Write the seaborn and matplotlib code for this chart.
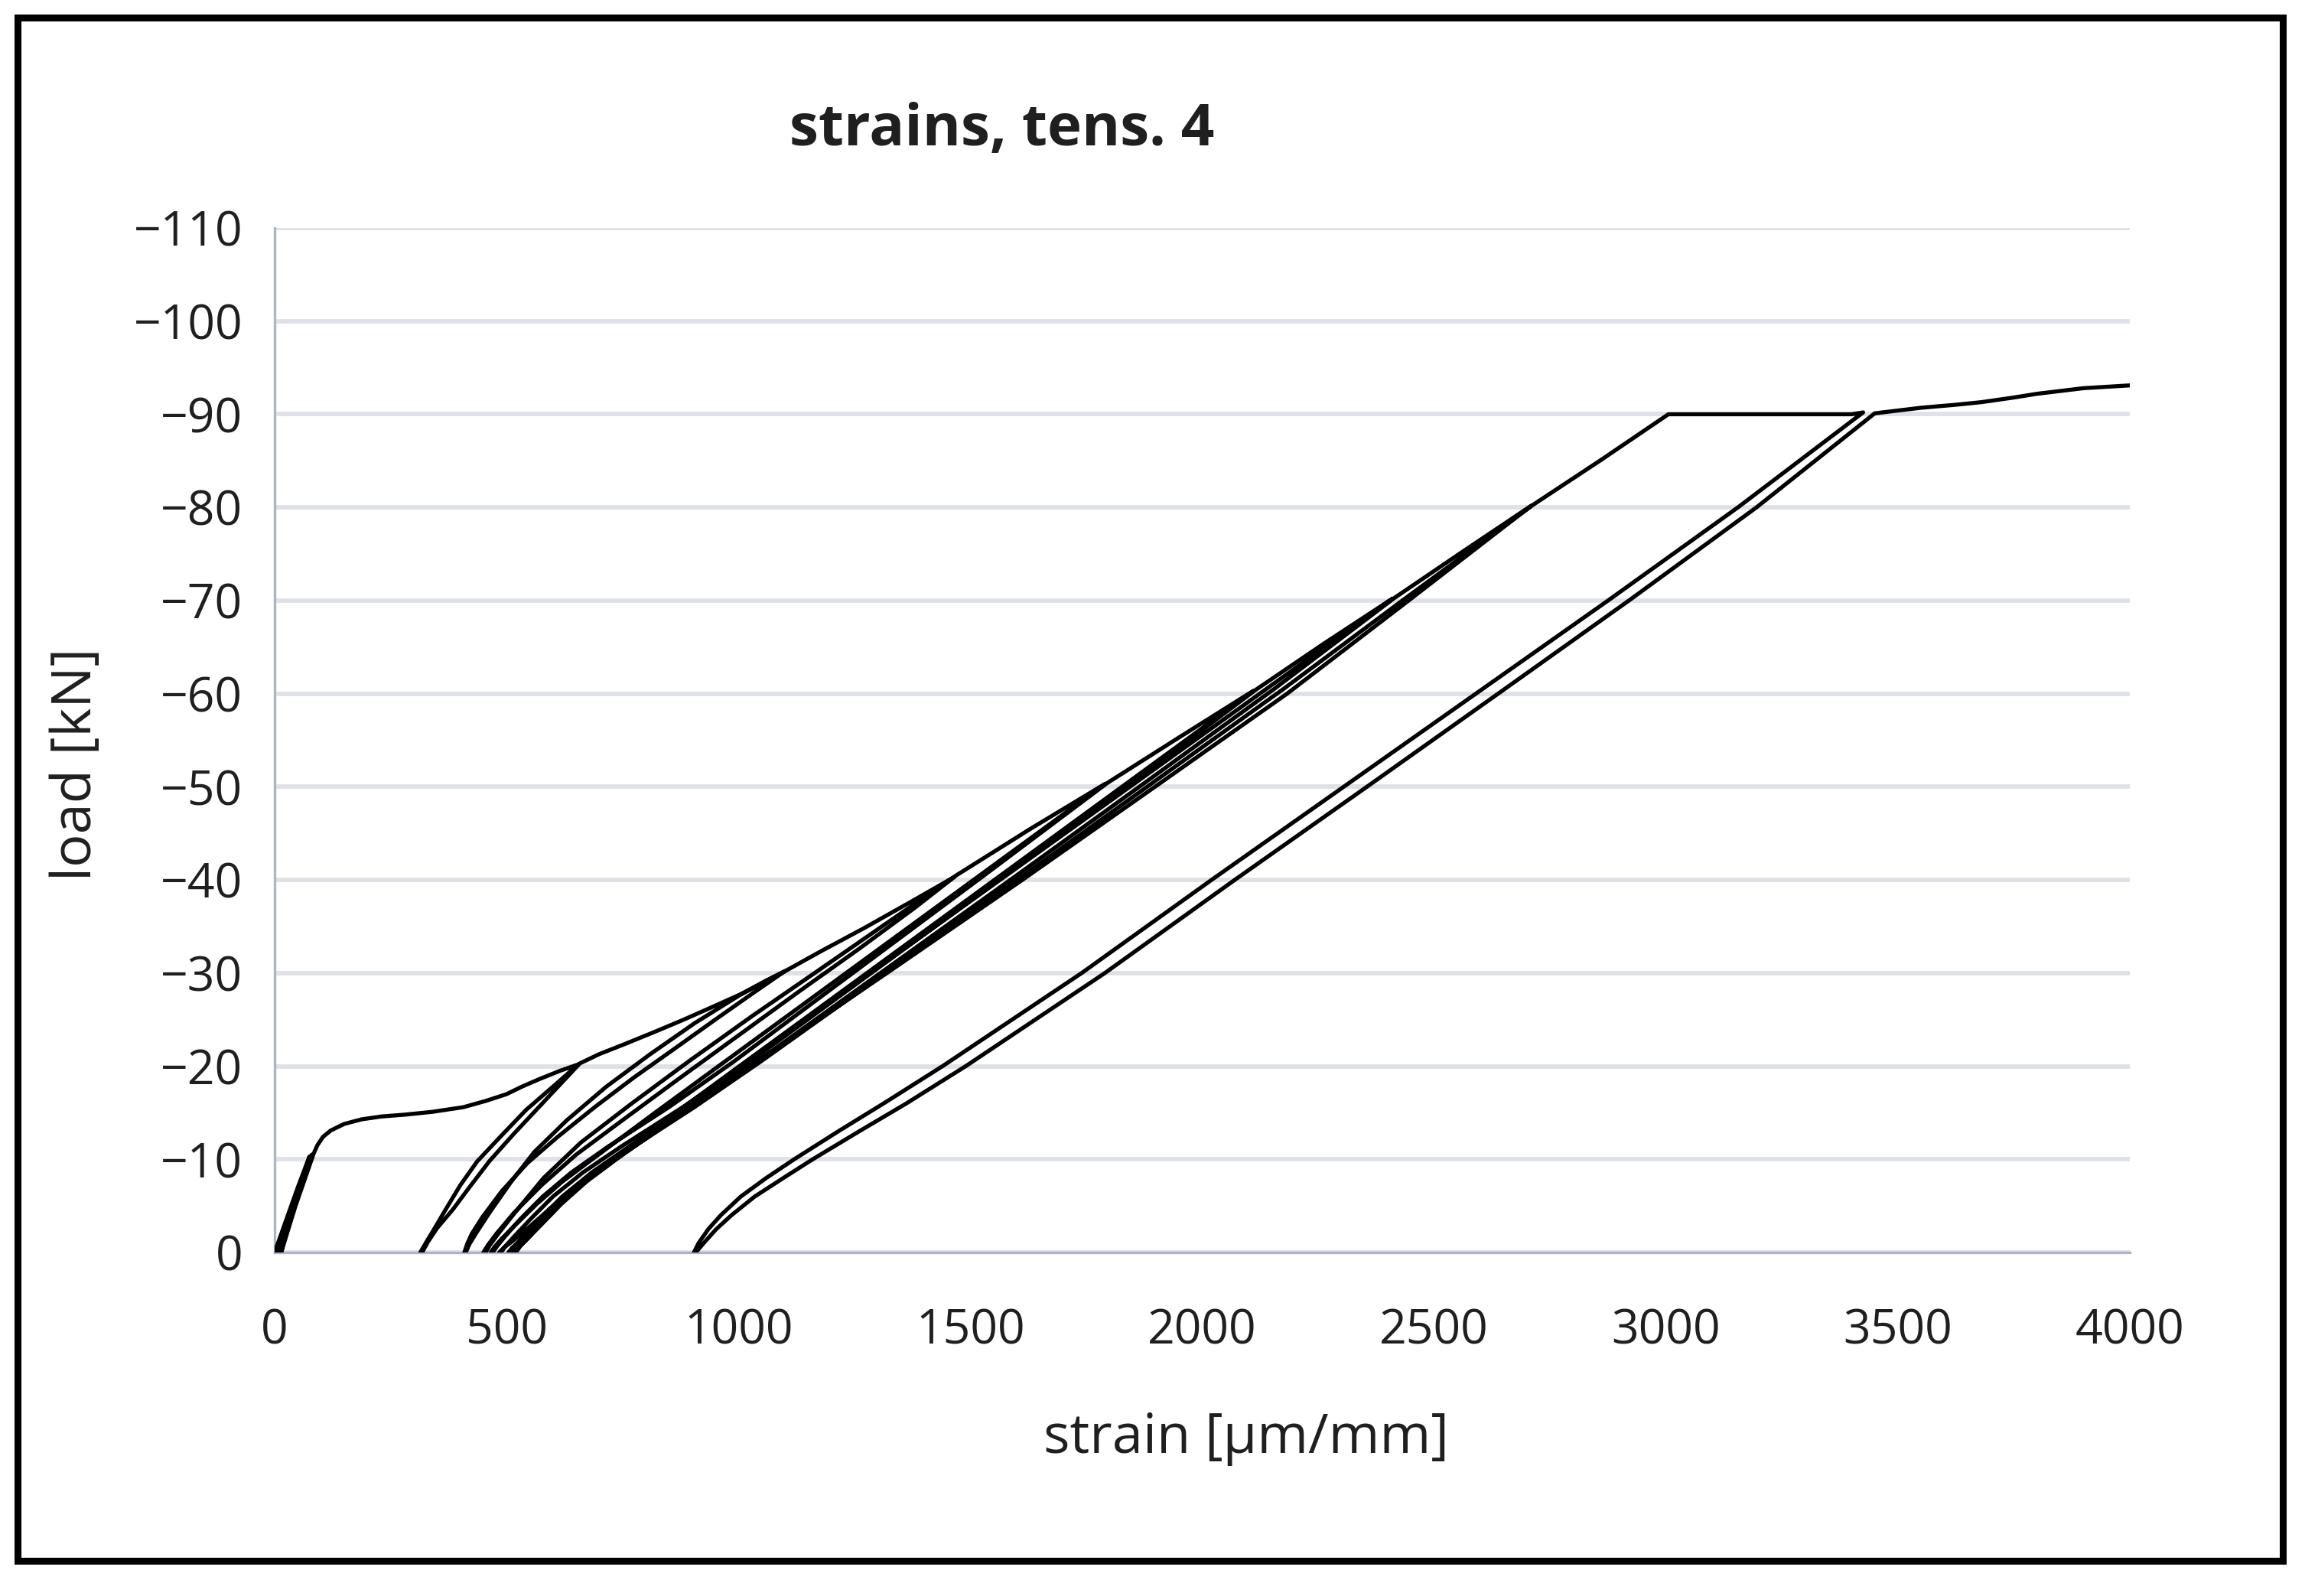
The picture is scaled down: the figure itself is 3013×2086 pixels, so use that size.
import numpy as np
import pandas as pd
import matplotlib
matplotlib.use("Agg")
import matplotlib.pyplot as plt
from matplotlib.patches import Rectangle
import seaborn as sns

# ---------------- data (strain in µm/mm, load in kN) ----------------
initial_x = [0, 25, 50, 75, 55, 30, 8, 35, 60, 80, 60, 35, 14, 45, 70, 84]
initial_y = [0, -3.5, -7.0, -10.3, -7.2, -3.8, 0, -4.0, -7.6, -10.5, -7.5, -4.0, 0, -5.0, -8.6, -10.6]

env1_x = [84, 92, 104, 121, 150, 188, 230, 281, 340, 407, 457, 500, 533, 570, 615, 655]
env1_y = [-10.6, -11.5, -12.4, -13.1, -13.8, -14.3, -14.6, -14.8, -15.1, -15.6, -16.3, -17.0, -17.8, -18.6, -19.5, -20.2]

loop2_unload_x = [655, 600, 542, 490, 437, 400, 365, 345, 328, 314]
loop2_unload_y = [-20.2, -17.8, -15.3, -12.6, -9.8, -7.2, -4.3, -2.6, -1.2, 0]
loop2_reload_x = [318, 330, 350, 384, 420, 463, 515, 564, 615, 658]
loop2_reload_y = [0, -1.1, -2.6, -4.6, -7.0, -9.8, -12.7, -15.3, -18.0, -20.3]

env2_x = [658, 700, 756, 820, 882, 950, 1008, 1060, 1100]
env2_y = [-20.3, -21.3, -22.4, -23.7, -25.0, -26.5, -27.8, -29.2, -30.2]

loop3_unload_x = [1100, 1030, 950, 860, 775, 690, 610, 545, 490, 448, 425, 415, 409]
loop3_unload_y = [-30.2, -27.8, -25.0, -21.8, -18.8, -15.6, -12.4, -9.6, -6.6, -3.8, -2.0, -0.9, 0]
loop3_reload_x = [412, 420, 436, 465, 510, 560, 630, 715, 810, 905, 1005, 1104]
loop3_reload_y = [0, -0.9, -2.2, -4.4, -7.6, -10.8, -14.2, -17.8, -21.3, -24.6, -27.7, -30.3]

env3_x = [1104, 1180, 1270, 1370, 1465]
env3_y = [-30.3, -32.4, -34.8, -37.6, -40.3]

loop4_unload_x = [1465, 1380, 1260, 1130, 1000, 870, 750, 650, 575, 515, 478, 460, 450]
loop4_unload_y = [-40.3, -37.0, -32.6, -28.0, -23.3, -18.6, -14.2, -10.5, -7.2, -4.2, -2.0, -0.8, 0]
loop4_reload_x = [455, 464, 482, 520, 580, 660, 770, 895, 1030, 1170, 1315, 1470]
loop4_reload_y = [0, -0.8, -2.0, -4.4, -8.0, -11.8, -16.0, -20.6, -25.4, -30.2, -35.2, -40.5]

env4_x = [1470, 1550, 1630, 1710, 1790]
env4_y = [-40.5, -43.0, -45.5, -47.9, -50.3]

loop5_unload_x = [1790, 1507, 1232, 957, 820, 690, 620, 565, 520, 490, 474, 466]
loop5_unload_y = [-50.3, -40, -30, -20, -15, -10.2, -7.6, -5.2, -3.0, -1.5, -0.6, 0]
loop5_reload_x = [470, 480, 498, 530, 578, 640, 720, 850, 990, 1260, 1530, 1795]
loop5_reload_y = [0, -0.7, -1.8, -3.6, -6.0, -8.6, -11.4, -15.6, -20.5, -30.5, -40.5, -50.4]

env5_x = [1795, 1950, 2110]
env5_y = [-50.4, -55.3, -60.3]

loop6_unload_x = [2110, 1827, 1552, 1277, 1002, 865, 735, 662, 605, 555, 515, 494, 484]
loop6_unload_y = [-60.3, -50, -40, -30, -20, -15, -10.2, -7.6, -5.2, -3.0, -1.3, -0.5, 0]
loop6_reload_x = [488, 498, 518, 552, 600, 665, 748, 880, 1025, 1300, 1575, 1850, 2115]
loop6_reload_y = [0, -0.7, -1.8, -3.6, -6.0, -8.6, -11.4, -15.6, -20.5, -30.5, -40.5, -50.5, -60.4]

env6_x = [2115, 2260, 2410]
env6_y = [-60.4, -65.3, -70.2]

loop7_unload_x = [2410, 2124, 1844, 1564, 1284, 1004, 866, 735, 665, 610, 565, 530, 512, 504]
loop7_unload_y = [-70.2, -60, -50, -40, -30, -20, -15, -10.2, -7.6, -5.2, -3.0, -1.3, -0.5, 0]
loop7_reload_x = [508, 518, 538, 572, 620, 684, 765, 895, 1040, 1320, 1600, 1878, 2155, 2415]
loop7_reload_y = [0, -0.7, -1.8, -3.6, -6.0, -8.6, -11.4, -15.6, -20.5, -30.5, -40.5, -50.5, -60.5, -70.3]

env7_x = [2415, 2560, 2710]
env7_y = [-70.3, -75.2, -80.2]

loop8_unload_x = [2710, 2445, 2183, 1898, 1612, 1320, 1025, 880, 742, 672, 618, 575, 542, 524, 516]
loop8_unload_y = [-80.2, -70, -60, -50, -40, -30, -20, -15, -10.2, -7.6, -5.2, -3.0, -1.3, -0.5, 0]
loop8_reload_x = [520, 530, 550, 585, 632, 695, 775, 905, 1048, 1330, 1615, 1895, 2175, 2445, 2714]
loop8_reload_y = [0, -0.7, -1.8, -3.6, -6.0, -8.6, -11.4, -15.6, -20.5, -30.5, -40.5, -50.5, -60.5, -70.5, -80.3]

env8_x = [2714, 2860, 3005]
env8_y = [-80.3, -85.1, -90.0]

hold_x = [3005, 3200, 3400, 3425]
hold_y = [-90.0, -90.0, -90.0, -90.2]

loop9_unload_x = [3425, 3155, 2875, 2590, 2305, 2020, 1740, 1440, 1313, 1215, 1120, 1060, 1005, 962, 935, 914, 904]
loop9_unload_y = [-90.2, -80, -70, -60, -50, -40, -30, -20, -16, -13, -10, -8, -6, -4, -2.5, -1.0, 0]
loop9_reload_x = [908, 925, 952, 985, 1035, 1097, 1160, 1260, 1362, 1490, 1790, 2070, 2355, 2638, 2920, 3195, 3450]
loop9_reload_y = [0, -1.0, -2.5, -4, -6, -8, -10, -13, -16, -20, -30, -40, -50, -60, -70, -80, -90.1]

final_x = [3450, 3500, 3550, 3620, 3680, 3750, 3800, 3900, 4000]
final_y = [-90.1, -90.4, -90.7, -91.0, -91.3, -91.8, -92.2, -92.8, -93.1]

x_ticks = [0, 500, 1000, 1500, 2000, 2500, 3000, 3500, 4000]
y_ticks = [0, -10, -20, -30, -40, -50, -60, -70, -80, -90, -100, -110]
y_tick_labels = ["0", "\u221210", "\u221220", "\u221230", "\u221240", "\u221250",
                 "\u221260", "\u221270", "\u221280", "\u221290", "\u2212100", "\u2212110"]

title_text = "strains, tens. 4"
x_label = "strain [\u00b5m/mm]"
y_label = "load [kN]"

# ---------------- assemble path in test order ----------------
segments = [
    (initial_x, initial_y), (env1_x, env1_y),
    (loop2_unload_x, loop2_unload_y), (loop2_reload_x, loop2_reload_y), (env2_x, env2_y),
    (loop3_unload_x, loop3_unload_y), (loop3_reload_x, loop3_reload_y), (env3_x, env3_y),
    (loop4_unload_x, loop4_unload_y), (loop4_reload_x, loop4_reload_y), (env4_x, env4_y),
    (loop5_unload_x, loop5_unload_y), (loop5_reload_x, loop5_reload_y), (env5_x, env5_y),
    (loop6_unload_x, loop6_unload_y), (loop6_reload_x, loop6_reload_y), (env6_x, env6_y),
    (loop7_unload_x, loop7_unload_y), (loop7_reload_x, loop7_reload_y), (env7_x, env7_y),
    (loop8_unload_x, loop8_unload_y), (loop8_reload_x, loop8_reload_y), (env8_x, env8_y),
    (hold_x, hold_y),
    (loop9_unload_x, loop9_unload_y), (loop9_reload_x, loop9_reload_y), (final_x, final_y),
]
xs, ys = [], []
for sx, sy in segments:
    xs.extend(sx)
    ys.extend(sy)
df = pd.DataFrame({"strain": xs, "load": ys})

# ---------------- style ----------------
sns.set_theme(style="white")
plt.rcParams["font.family"] = ["Open Sans", "DejaVu Sans"]
text_color = "#1f1f1f"

W, H = 3013, 2086
fig = plt.figure(figsize=(W / 100, H / 100), dpi=100)
fig.patch.set_facecolor("white")
ax = fig.add_axes([359 / W, 1 - 1637 / H, (2784 - 359) / W, (1637 - 298) / H])

sns.lineplot(data=df, x="strain", y="load", sort=False, estimator=None,
             color="black", linewidth=3.8, ax=ax, zorder=3)
for ln in ax.get_lines():
    ln.set_solid_joinstyle("round")
    ln.set_solid_capstyle("round")

ax.set_xlim(0, 4000)
ax.set_ylim(0, -110)
ax.set_xticks(x_ticks)
ax.set_xticklabels([str(t) for t in x_ticks])
ax.set_yticks(y_ticks)
ax.set_yticklabels(y_tick_labels)
ax.tick_params(axis="both", length=0, labelsize=45, labelcolor=text_color)
ax.tick_params(axis="y", pad=30)
ax.tick_params(axis="x", pad=52)

ax.yaxis.grid(True, color="#dee2e8", linewidth=4.2, zorder=0)
ax.xaxis.grid(False)
ax.set_axisbelow(True)

for side in ["top", "right"]:
    ax.spines[side].set_visible(False)
for side in ["left", "bottom"]:
    ax.spines[side].set_visible(True)
    ax.spines[side].set_color("#aab5c8")
    ax.spines[side].set_linewidth(2.4)

ax.set_xlabel(x_label, fontsize=52, color=text_color, va="center")
ax.xaxis.set_label_coords((1629 - 359) / (2784 - 359), (1637 - 1880) / (1637 - 298))
ax.set_ylabel(y_label, fontsize=52, color=text_color, va="center")
ax.yaxis.set_label_coords((100 - 359) / (2784 - 359), (1637 - 999) / (1637 - 298))

fig.text(1310 / W, 1 - 170 / H, title_text, ha="center", va="center",
         fontsize=55, fontweight="bold", color=text_color)

fig.patches.append(Rectangle((23 / W, 1 - 2040 / H), (2984 - 23) / W, (2040 - 23) / H,
                             transform=fig.transFigure, fill=False,
                             edgecolor="black", linewidth=6.5, zorder=10))

fig.savefig("out.png", dpi=100, facecolor="white")
